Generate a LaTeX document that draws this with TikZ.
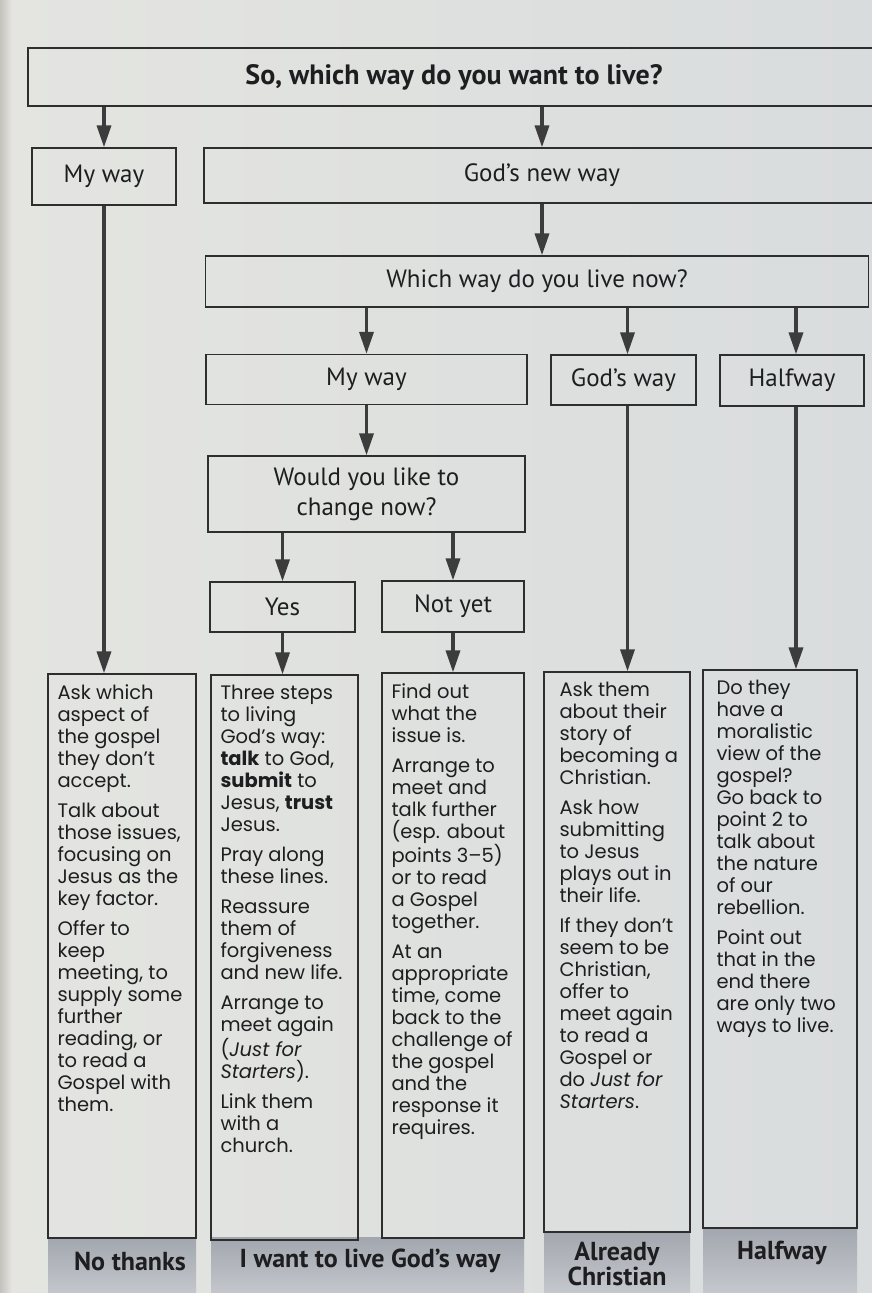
\documentclass[tikz,border=0pt]{standalone}
\usepackage{fontspec}
\setmainfont{Poppins}
\newfontfamily\headfont{PT Sans}
\usetikzlibrary{arrows.meta}
\definecolor{pagel}{HTML}{E4E5E1}
\definecolor{pager}{HTML}{D9DCDD}
\definecolor{edgec}{HTML}{C4C2BC}
\definecolor{linec}{HTML}{2E2E2E}
\definecolor{arrowc}{HTML}{3C3C3C}
\definecolor{bandtop}{HTML}{A2A6AE}
\definecolor{bandbot}{HTML}{C6C9CE}
\definecolor{textc}{HTML}{1E1E20}
\tikzset{
  hbox/.style={draw=linec, line width=1.3pt, inner sep=0pt, text=textc,
    font=\headfont\fontsize{25}{30}\selectfont, align=center},
  bbox/.style={draw=linec, line width=1.3pt, inner sep=0pt},
  body/.style={anchor=north west, inner sep=0pt, align=left, text=textc,
    font=\fontsize{19.5}{22}\selectfont},
  band/.style={inner sep=0pt, top color=bandtop, bottom color=bandbot, draw=none, anchor=north},
  blabel/.style={inner sep=0pt, align=center, text=textc,
    font=\headfont\bfseries\fontsize{26}{23}\selectfont},
  arr/.style={draw=arrowc, line width=3.5pt, -{Triangle[width=14pt,length=22pt]}}
}
\begin{document}
\begin{tikzpicture}[x=1pt,y=-1pt]
\useasboundingbox (0,0) rectangle (872,1293);
\clip (0,0) rectangle (872,1293);
\shade[left color=pagel, right color=pager] (0,0) rectangle (872,1293);
\shade[left color=edgec, right color=pagel] (0,0) rectangle (12,1293);

% top level
\node[hbox, minimum width=852pt, minimum height=58pt, font=\headfont\bfseries\fontsize{28}{30}\selectfont] (top) at (454,77) {So, which way do you want to live?};
\node[hbox, minimum width=144pt, minimum height=57pt] (mw1) at (104,176.5) {My way};
\node[hbox, minimum width=676pt, minimum height=55pt] (gnw) at (542,175.5) {God’s new way};
\node[hbox, minimum width=663pt, minimum height=51pt] (which) at (537,281.5) {Which way do you live now?};
\node[hbox, minimum width=321pt, minimum height=50pt] (mw2) at (366.5,379.5) {My way};
\node[hbox, minimum width=145pt, minimum height=50pt] (gw) at (623.5,380) {God’s way};
\node[hbox, minimum width=144pt, minimum height=51pt] (hw) at (792,380.5) {Halfway};
\node[hbox, minimum width=317pt, minimum height=76pt] (would) at (366.5,494) {Would you like to\\change now?};
\node[hbox, minimum width=145pt, minimum height=50pt] (yes) at (282.5,607) {Yes};
\node[hbox, minimum width=142pt, minimum height=51pt] (notyet) at (453,606.5) {Not yet};

% bottom bands
\node[band, minimum width=148pt, minimum height=60pt] (band1) at (122,1237) {};
\node[band, minimum width=313pt, minimum height=60pt] (band2) at (367.5,1237) {};
\node[band, minimum width=146pt, minimum height=64pt] (band4) at (617,1231) {};
\node[band, minimum width=154pt, minimum height=68pt] (band5) at (780,1227) {};

% bottom boxes
\node[bbox, minimum width=148pt, minimum height=564pt] (b1) at (122,956) {};
\node[bbox, minimum width=147pt, minimum height=565pt] (b2) at (284.5,957.5) {};
\node[bbox, minimum width=142pt, minimum height=565pt] (b3) at (453,955.5) {};
\node[bbox, minimum width=146pt, minimum height=560pt] (b4) at (617,952) {};
\node[bbox, minimum width=154pt, minimum height=558pt] (b5) at (780,949) {};

% body texts
\node[body] (t1) at ([shift={(10,11)}]b1.north west) {Ask which\\aspect of\\the gospel\\they don’t\\accept.\\[8pt]
Talk about\\those issues,\\focusing on\\Jesus as the\\key factor.\\[8pt]
Offer to\\keep\\meeting, to\\supply some\\further\\reading, or\\to read a\\Gospel with\\them.};
\node[body] (t2) at ([shift={(10,11)}]b2.north west) {Three steps\\to living\\God’s way:\\\textbf{talk} to God,\\\textbf{submit} to\\Jesus, \textbf{trust}\\Jesus.\\[8pt]
Pray along\\these lines.\\[8pt]
Reassure\\them of\\forgiveness\\and new life.\\[8pt]
Arrange to\\meet again\\(\textit{Just for}\\\textit{Starters}).\\[8pt]
Link them\\with a\\church.};
\node[body] (t3) at ([shift={(10,11)}]b3.north west) {Find out\\what the\\issue is.\\[8pt]
Arrange to\\meet and\\talk further\\(esp. about\\points 3–5)\\or to read\\a Gospel\\together.\\[8pt]
At an\\appropriate\\time, come\\back to the\\challenge of\\the gospel\\and the\\response it\\requires.};
\node[body] (t4) at ([shift={(16,11)}]b4.north west) {Ask them\\about their\\story of\\becoming a\\Christian.\\[8pt]
Ask how\\submitting\\to Jesus\\plays out in\\their life.\\[8pt]
If they don’t\\seem to be\\Christian,\\offer to\\meet again\\to read a\\Gospel or\\do \textit{Just for}\\\textit{Starters}.};
\node[body] (t5) at ([shift={(14,11)}]b5.north west) {Do they\\have a\\moralistic\\view of the\\gospel?\\Go back to\\point 2 to\\talk about\\the nature\\of our\\rebellion.\\[8pt]
Point out\\that in the\\end there\\are only two\\ways to live.};

% band labels
\node[blabel] (l1) at (130,1261) {No thanks};
\node[blabel] (l2) at (370,1261) {I want to live God’s way};
\node[blabel] (l4) at (617,1264) {Already\\Christian};
\node[blabel] (l5) at (782,1253) {Halfway};

% arrows
\draw[arr] (top.south -| mw1.north) -- (mw1.north);
\draw[arr] (top.south -| gnw.north) -- (gnw.north);
\draw[arr] (gnw.south) -- (which.north -| gnw.south);
\draw[arr] (which.south -| mw2.north) -- (mw2.north);
\draw[arr] ([xshift=4pt]which.south -| gw.north) -- ([xshift=4pt]gw.north);
\draw[arr] ([xshift=4pt]which.south -| hw.north) -- ([xshift=4pt]hw.north);
\draw[arr] (mw2.south) -- (would.north);
\draw[arr] (would.south -| yes.north) -- (yes.north);
\draw[arr] (would.south -| notyet.north) -- (notyet.north);
\draw[arr] (yes.south) -- (yes.south |- b2.north);
\draw[arr] (notyet.south) -- (notyet.south |- b3.north);
\draw[arr] (mw1.south) -- (mw1.south |- b1.north);
\draw[arr] ([xshift=4pt]gw.south) -- ([xshift=4pt]gw.south |- b4.north);
\draw[arr] ([xshift=4pt]hw.south) -- ([xshift=4pt]hw.south |- b5.north);
\end{tikzpicture}
\end{document}
